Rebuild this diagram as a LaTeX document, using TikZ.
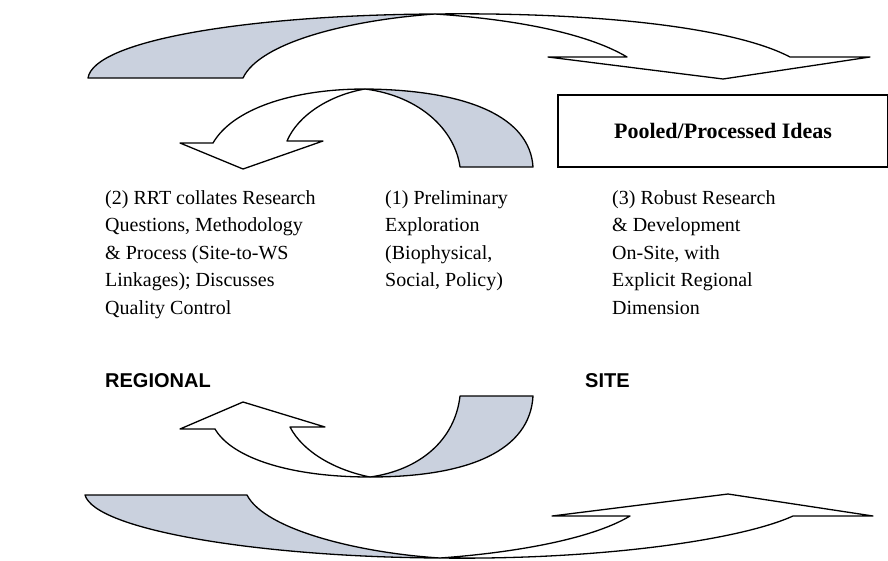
\documentclass[tikz,border=0pt]{standalone}
\usepackage{fontspec}
\setmainfont{Liberation Serif}
\setsansfont{Liberation Sans}
\definecolor{backside}{RGB}{202,209,222}
\tikzset{
  ribbon/.style={draw=black, line width=1.3pt, line join=round, fill=white},
  ribbonback/.style={ribbon, fill=backside},
  coltext/.style={anchor=north west, align=left, inner sep=0pt, font=\fontsize{20}{27.5}\selectfont},
  sidelabel/.style={anchor=west, inner sep=0pt, font=\sffamily\bfseries\fontsize{20}{22}\selectfont}
}
\begin{document}
\begin{tikzpicture}[x=1pt, y=-1pt]
\useasboundingbox (0,0) rectangle (888,560);

\draw[ribbonback] (88,78) .. controls (94,40) and (250,15) .. (435,14)
  .. controls (350,20) and (260,42) .. (243,78) -- cycle;
\draw[ribbon] (435,14) .. controls (600,12) and (735,28) .. (790,57) -- (870,57) -- (723,79)
  -- (548,57) -- (627,57) .. controls (585,32) and (510,19) .. (435,14) -- cycle;

\draw[ribbonback] (533,167) .. controls (530,118) and (470,90) .. (365,89)
  .. controls (420,96) and (455,130) .. (460,167) -- cycle;
\draw[ribbon] (365,89) .. controls (290,89) and (232,110) .. (213,143) -- (180,143) -- (243,169)
  -- (323,141) -- (287,141) .. controls (298,115) and (330,95) .. (365,89) -- cycle;

\node[draw, line width=1.2pt, minimum width=330pt, minimum height=72pt, inner sep=0pt,
  font=\bfseries\fontsize{22}{24}\selectfont] (pooled) at (723,131) {Pooled/Processed Ideas};

\node[coltext] (collates) at (105,190) {(2) RRT collates Research\\Questions, Methodology\\\& Process (Site-to-WS\\Linkages); Discusses\\Quality Control};
\node[coltext] (prelim) at (385,190) {(1) Preliminary\\Exploration\\(Biophysical,\\Social, Policy)};
\node[coltext] (robust) at (612,190) {(3) Robust Research\\\& Development\\On-Site, with\\Explicit Regional\\Dimension};

\node[sidelabel] (regional) at (105,381) {REGIONAL};
\node[sidelabel] (site) at (585,381) {SITE};

\draw[ribbonback] (533,396) .. controls (530,450) and (470,477) .. (370,477)
  .. controls (420,470) and (455,440) .. (460,396) -- cycle;
\draw[ribbon] (370,477) .. controls (290,477) and (232,458) .. (215,429) -- (180,429) -- (243,402)
  -- (325,427) -- (290,427) .. controls (303,452) and (335,470) .. (370,477) -- cycle;

\draw[ribbonback] (85,495) .. controls (95,530) and (260,557) .. (440,558)
  .. controls (360,553) and (265,530) .. (247,495) -- cycle;
\draw[ribbon] (440,558) .. controls (600,560) and (740,540) .. (793,516) -- (873,516) -- (728,494)
  -- (552,516) -- (630,516) .. controls (590,540) and (510,553) .. (440,558) -- cycle;
\end{tikzpicture}
\end{document}
